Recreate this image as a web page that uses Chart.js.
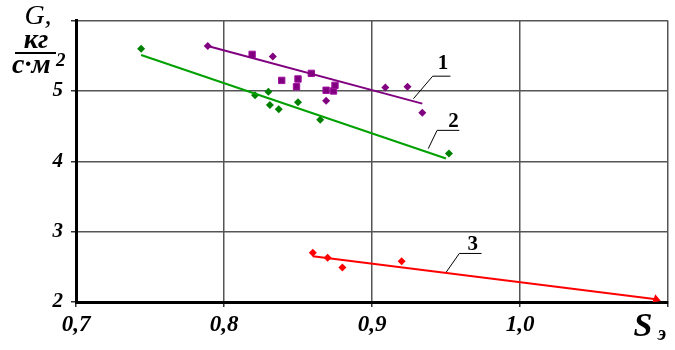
<!DOCTYPE html>
<html>
<head>
<meta charset="utf-8">
<script src="https://cdn.jsdelivr.net/npm/chart.js@4/dist/chart.umd.min.js"></script>
<style>
  html, body { margin: 0; padding: 0; background: #fff; }
  #wrap { width: 675px; height: 350px; position: relative; }
</style>
</head>
<body>
<div id="wrap"><canvas id="g-chart"></canvas></div>
<script>
// measured points, curve 1 (purple): diamonds and squares
var purpleDiamondS = [0.789, 0.833, 0.869, 0.909, 0.924, 0.934];
var purpleDiamondG = [5.64, 5.49, 4.86, 5.05, 5.06, 4.69];
var purpleSquareS = [0.819, 0.839, 0.849, 0.850, 0.859, 0.869, 0.874, 0.875];
var purpleSquareG = [5.52, 5.15, 5.06, 5.17, 5.25, 5.01, 5.00, 5.08];
// curve 2 (green)
var greenS = [0.744, 0.821, 0.830, 0.831, 0.837, 0.850, 0.865, 0.952];
var greenG = [5.60, 4.94, 4.99, 4.80, 4.74, 4.84, 4.59, 4.11];
// curve 3 (red)
var redS = [0.860, 0.870, 0.880, 0.920];
var redG = [2.70, 2.63, 2.49, 2.58];

// fitted lines
var fit1S = [0.789, 0.934], fit1G = [5.64, 4.82];
var fit2S = [0.744, 0.950], fit2G = [5.51, 4.04];
var fit3S = [0.860, 1.092], fit3G = [2.65, 2.04];

// leader lines for curve numbers
var leader1S = [0.928, 0.941, 0.953], leader1G = [4.89, 5.21, 5.21];
var leader2S = [0.938, 0.944, 0.959], leader2G = [4.18, 4.44, 4.44];
var leader3S = [0.950, 0.959, 0.974], leader3G = [2.42, 2.69, 2.69];
var curveNames = ['1', '2', '3'];
var curveNameS = [0.948, 0.955, 0.968];
var curveNameG = [5.39, 4.57, 2.82];

// axes
var sMin = 0.7, sMax = 1.1, sStep = 0.1;
var gMin = 2, gMax = 6, gStep = 1;

function pts(xs, ys) {
	return xs.map(function (x, i) { return {x: x, y: ys[i]}; });
}

var textPlugin = {
	id: 'texts',
	afterDraw: function (chart) {
		var ctx = chart.ctx;
		var sx = chart.scales.x, sy = chart.scales.y;
		ctx.save();
		ctx.fillStyle = '#000';
		ctx.textAlign = 'center';
		ctx.textBaseline = 'middle';
		ctx.font = 'bold 21px "Liberation Serif", serif';
		curveNames.forEach(function (t, i) {
			ctx.fillText(t, sx.getPixelForValue(curveNameS[i]), sy.getPixelForValue(curveNameG[i]));
		});

		// axis title G, kg/(s*m2)
		ctx.font = 'italic 28px "Liberation Serif", serif';
		ctx.fillText('G,', 38, 17);
		ctx.font = 'bold italic 28px "Liberation Serif", serif';
		ctx.textBaseline = 'alphabetic';
		ctx.fillText('кг', 36, 48);
		ctx.fillRect(15, 52, 41, 2);
		ctx.textAlign = 'left';
		ctx.fillText('с·м', 12, 73);
		ctx.font = 'bold italic 19px "Liberation Serif", serif';
		ctx.fillText('2', 56, 66);

		// x axis title
		ctx.textAlign = 'center';
		ctx.font = 'bold italic 34px "Liberation Serif", serif';
		ctx.fillText('S', 643, 336);
		ctx.font = 'bold italic 20px "Liberation Serif", serif';
		ctx.fillText('э', 662, 340);
		ctx.restore();
	}
};

new Chart('g-chart', {
	type: 'scatter',
	data: {
		datasets: [
			{data: pts(fit1S, fit1G), showLine: true, borderColor: '#800080', borderWidth: 2, pointRadius: 0},
			{data: pts(fit2S, fit2G), showLine: true, borderColor: '#00a000', borderWidth: 2, pointRadius: 0},
			{data: pts(fit3S, fit3G), showLine: true, borderColor: '#ff0000', borderWidth: 2,
				pointRadius: [0, 3], pointStyle: 'triangle', pointRotation: 110, backgroundColor: '#ff0000'},
			{data: pts(purpleDiamondS, purpleDiamondG), pointStyle: 'rectRot', pointRadius: 4,
				backgroundColor: '#800080', borderColor: '#800080', borderWidth: 0},
			{data: pts(purpleSquareS, purpleSquareG), pointStyle: 'rect', pointRadius: 4.5,
				backgroundColor: '#800080', borderColor: '#a010a0', borderWidth: 1},
			{data: pts(greenS, greenG), pointStyle: 'rectRot', pointRadius: 4,
				backgroundColor: '#008000', borderColor: '#008000', borderWidth: 0},
			{data: pts(redS, redG), pointStyle: 'rectRot', pointRadius: 4,
				backgroundColor: '#ff0000', borderColor: '#ff0000', borderWidth: 0},
			{data: pts(leader1S, leader1G), showLine: true, borderColor: '#000', borderWidth: 1, pointRadius: 0},
			{data: pts(leader2S, leader2G), showLine: true, borderColor: '#000', borderWidth: 1, pointRadius: 0},
			{data: pts(leader3S, leader3G), showLine: true, borderColor: '#000', borderWidth: 1, pointRadius: 0}
		]
	},
	options: {
		responsive: true,
		maintainAspectRatio: false,
		animation: false,
		layout: {padding: {left: 0, right: 7, top: 14, bottom: 0}},
		plugins: {legend: {display: false}, tooltip: {enabled: false}},
		scales: {
			x: {
				type: 'linear', min: sMin, max: sMax,
				afterFit: function (s) { s.height = 48; },
				border: {color: '#000', width: 3},
				grid: {color: '#555', lineWidth: 1.5, tickLength: 5, tickColor: '#333'},
				ticks: {
					stepSize: sStep, color: '#000', padding: 4,
					font: {family: '"Liberation Serif", serif', size: 23, style: 'italic', weight: 'bold'},
					callback: function (v) {
						if (v > 1.05) return '';
						return v.toFixed(1).replace('.', ',');
					}
				}
			},
			y: {
				type: 'linear', min: gMin, max: gMax,
				afterFit: function (s) { s.width = 76; },
				border: {color: '#000', width: 3},
				grid: {color: '#555', lineWidth: 1.5, tickLength: 5, tickColor: '#333'},
				ticks: {
					stepSize: gStep, color: '#000', padding: 8,
					font: {family: '"Liberation Serif", serif', size: 21, style: 'italic', weight: 'bold'},
					callback: function (v) { return v >= gMax ? '' : String(v); }
				}
			}
		}
	},
	plugins: [textPlugin]
});
</script>
</body>
</html>
